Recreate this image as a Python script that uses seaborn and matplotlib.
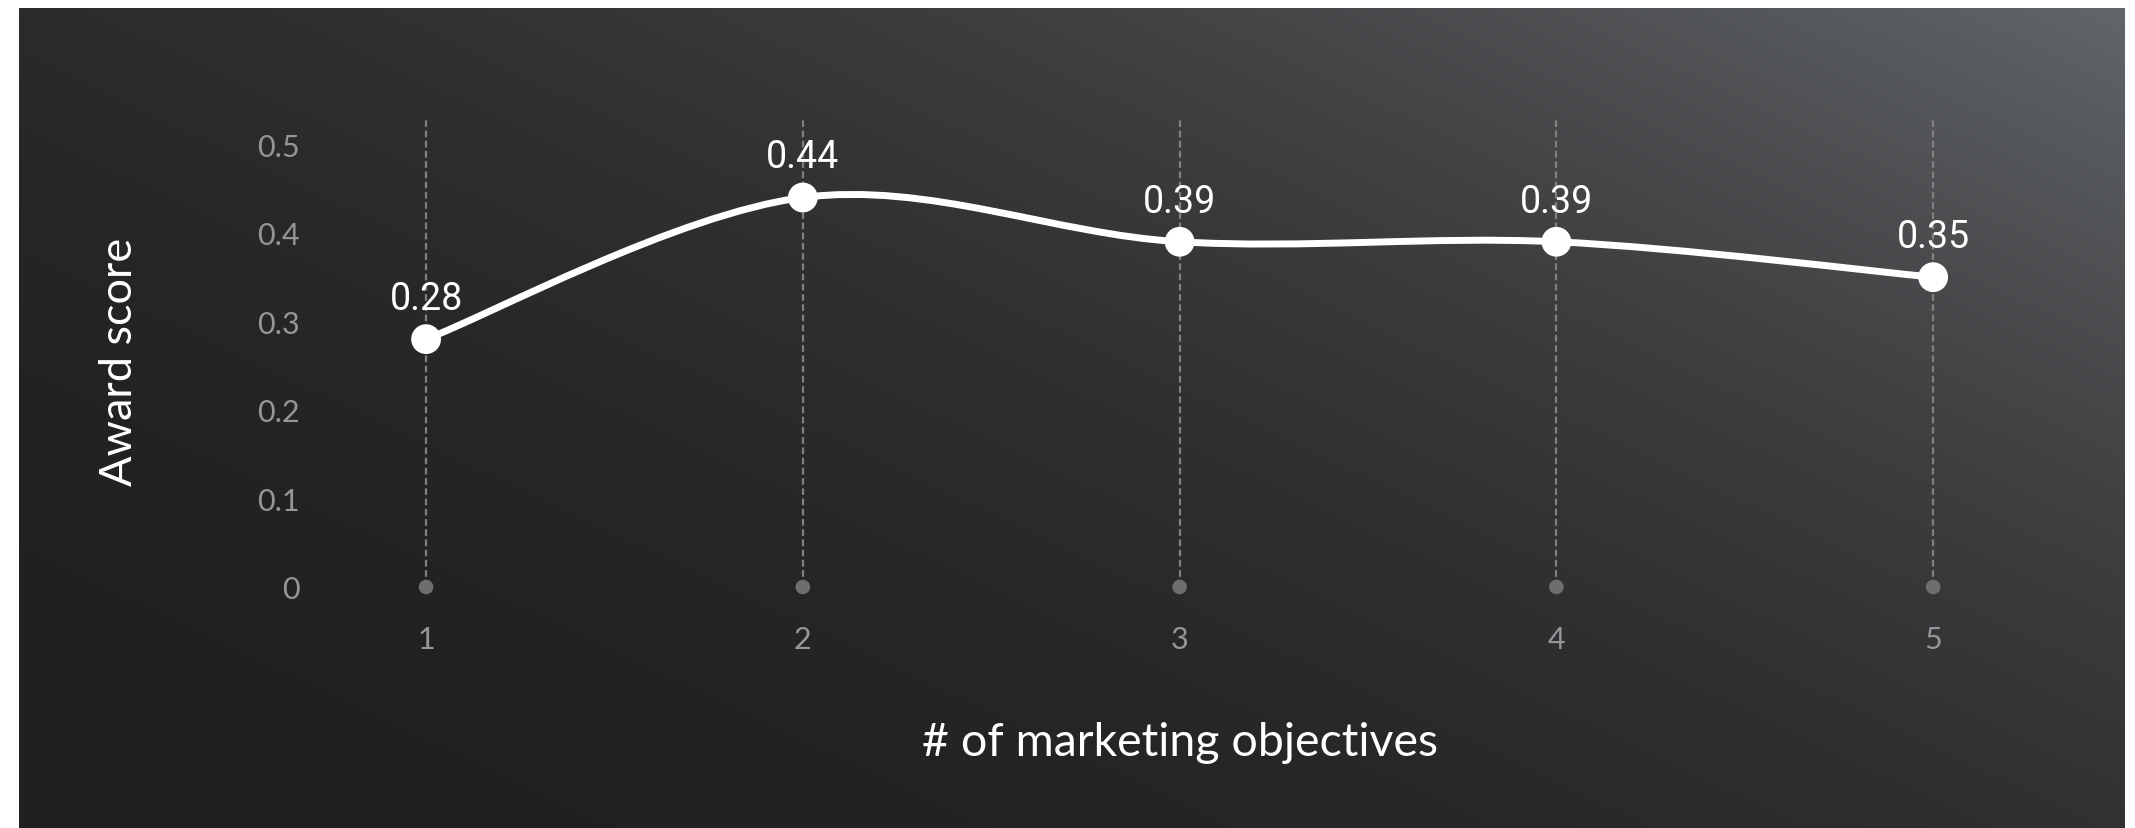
import numpy as np
import pandas as pd
import matplotlib
matplotlib.use("Agg")
import matplotlib.pyplot as plt
from matplotlib.path import Path
from matplotlib.patches import PathPatch
import seaborn as sns

# Average award score by number of marketing objectives
objectives = [1, 2, 3, 4, 5]
award_score = [0.28, 0.44, 0.39, 0.39, 0.35]
value_labels = ["0.28", "0.44", "0.39", "0.39", "0.35"]
y_ticks = [0, 0.1, 0.2, 0.3, 0.4, 0.5]
y_tick_labels = ["0", "0.1", "0.2", "0.3", "0.4", "0.5"]

df = pd.DataFrame({"objectives": objectives, "score": award_score})

sns.set_theme(style="dark")
plt.rcParams["font.family"] = ["Lato", "DejaVu Sans"]

W, H = 2135, 829
fig = plt.figure(figsize=(W / 100, H / 100), dpi=100, facecolor="white")

# Dark panel with a diagonal gradient, lighter toward the top-right corner
bg = fig.add_axes([19 / W, 0, (2125 - 19) / W, (H - 9) / H])
bg.set_axis_off()
gx = np.linspace(0, 1, 600)
gy = np.linspace(1, 0, 240)
U, V = np.meshgrid(gx, gy)
t = np.clip(0.55 * U + 0.45 * V, 0, 1) ** 2.3
dark = np.array([0x22, 0x1f, 0x20]) / 255
light = np.array([0x62, 0x66, 0x69]) / 255
img = dark[None, None, :] + (light - dark)[None, None, :] * t[..., None]
bg.imshow(img, aspect="auto", extent=[0, 1, 0, 1], interpolation="bilinear")

# Plot area
ax = fig.add_axes([330 / W, (H - 600) / H, 1680 / W, 490 / H])
ax.set_facecolor("none")
ax.set_xlim(0.745, 5.204)
ax.set_ylim(-0.0136, 0.540)
for s in ax.spines.values():
    s.set_visible(False)
ax.grid(False)

# Dashed guides and small base dots at each category
ax.vlines(objectives, 0, 0.531, colors="#808083", linestyles=(0, (3.0, 1.6)),
          linewidth=1.6, zorder=1)
sns.scatterplot(data=df.assign(base=0), x="objectives", y="base", ax=ax,
                s=110, color="#6e6d70", edgecolor="none", zorder=2, legend=False)

# Smooth curve (Catmull-Rom through the points, drawn as cubic Beziers)
pts = np.column_stack([objectives, award_score]).astype(float)
ext = np.vstack([pts[0], pts, pts[-1]])
verts = [tuple(pts[0])]
codes = [Path.MOVETO]
for i in range(len(pts) - 1):
    p0, p1, p2, p3 = ext[i], ext[i + 1], ext[i + 2], ext[i + 3]
    c1 = p1 + (p2 - p0) / 6
    c2 = p2 - (p3 - p1) / 6
    verts += [tuple(c1), tuple(c2), tuple(p2)]
    codes += [Path.CURVE4] * 3
ax.add_patch(PathPatch(Path(verts, codes), facecolor="none", edgecolor="white",
                       linewidth=5.0, capstyle="round", zorder=3))

sns.scatterplot(data=df, x="objectives", y="score", ax=ax, s=460,
                color="white", edgecolor="none", zorder=4, legend=False)

for xv, yv, lab in zip(objectives, award_score, value_labels):
    ax.annotate(lab, (xv, yv), xytext=(0, 16), textcoords="offset points",
                ha="center", va="bottom", color="white", fontsize=27,
                family=["Roboto", "DejaVu Sans"], zorder=5)

ax.set_xticks(objectives)
ax.set_xticklabels([str(v) for v in objectives])
ax.set_yticks(y_ticks)
ax.set_yticklabels(y_tick_labels)
ax.tick_params(axis="both", length=0, colors="#96969a", labelsize=22)
ax.tick_params(axis="x", pad=19)
ax.tick_params(axis="y", pad=22)

ax.set_xlabel("")
ax.set_ylabel("")
fig.text(1180 / W, 1 - 743 / H, "# of marketing objectives", ha="center",
         va="center", color="white", fontsize=33.5)
fig.text(120 / W, 1 - 362 / H, "Award score", ha="center", va="center",
         rotation=90, color="white", fontsize=32.5)

fig.savefig("out.png", dpi=100, facecolor="white")
